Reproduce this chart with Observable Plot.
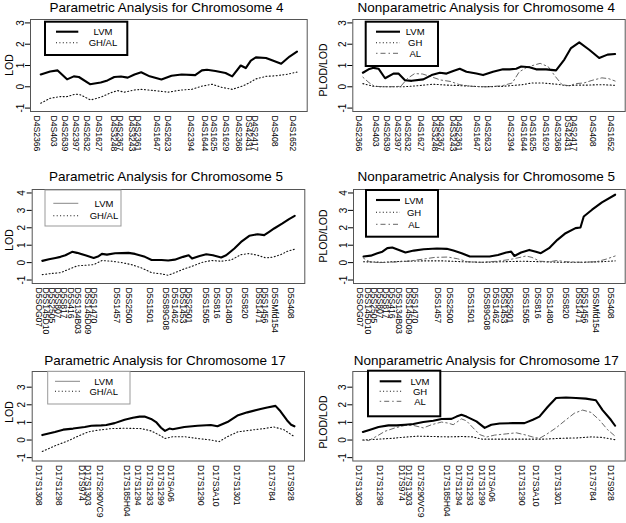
<!DOCTYPE html>
<html><head><meta charset="utf-8">
<script src="https://cdn.jsdelivr.net/npm/d3@7"></script>
<script src="https://cdn.jsdelivr.net/npm/@observablehq/plot@0.6"></script>
<style>
body{margin:0;background:#fff;font-family:"Liberation Sans",Arial,sans-serif;}
#root{position:relative;width:626px;height:523px;overflow:hidden;background:#fff;}
#root > svg{position:absolute;}
</style></head><body><div id="root"></div>
<script>
// ---------- Chromosome 4 ----------
const chr4Markers = ["D4S2366","D4S403","D4S2639","D4S2397","D4S2632","D4S1627","D4S3248","D4S2367","D4S3243","D4S2361","D4S1647","D4S2623","D4S2394","D4S1644","D4S1625","D4S1629","D4S2368","DS42431","D4S2417","D4S408","D4S1652"];
const chr4Pos = [0,17.2,27.7,38.6,49.2,61.8,76,82.2,94,100.3,118.6,129.5,152.6,165.8,174.7,187.3,199.8,209.5,216,235.2,253.3];
const chr4ParLVM = [[0,0.58],[9.3,0.72],[16.7,0.77],[26,0.35],[32.7,0.49],[37.7,0.46],[48.7,0.12],[59.3,0.2],[66,0.3],[72.7,0.46],[79.3,0.48],[86,0.43],[92.7,0.58],[99.3,0.68],[107.7,0.49],[119.3,0.34],[129.3,0.52],[139.3,0.58],[152.7,0.55],[159.3,0.77],[164.3,0.8],[172.7,0.74],[182.7,0.65],[189.3,0.49],[197.7,1.0],[202.7,0.88],[207.7,1.23],[212.7,1.38],[222.7,1.35],[229.3,1.23],[237.7,1.08],[246,1.42],[253.3,1.65]];
const chr4ParGHAL = [[0,-0.77],[9.3,-0.54],[19.3,-0.46],[26,-0.46],[34.3,-0.34],[39.3,-0.38],[49.3,-0.62],[59.3,-0.49],[69.3,-0.28],[76,-0.18],[82.7,-0.25],[92.7,-0.15],[99.3,-0.12],[112.7,-0.18],[126,-0.25],[139.3,-0.15],[149.3,-0.12],[159.3,0.03],[169.3,0.12],[179.3,-0.03],[189.3,-0.12],[199.3,0.03],[206,0.18],[212.7,0.37],[222.7,0.49],[232.7,0.52],[242.7,0.58],[253.3,0.69]];
const chr4NonLVM = [[0,0.66],[5.7,0.82],[10.7,0.89],[15.7,0.85],[22.3,0.4],[30.7,0.62],[35.7,0.62],[42.3,0.31],[49,0.28],[60.7,0.35],[69,0.55],[77.3,0.66],[84,0.62],[90.7,0.74],[97.3,0.85],[104,0.71],[114,0.62],[120.7,0.55],[130.7,0.71],[140.7,0.82],[147.3,0.82],[154,0.85],[159,0.95],[167.3,0.92],[174,0.82],[184,0.82],[194,0.77],[202.3,1.28],[209,1.82],[217.3,2.09],[227.3,1.74],[237.3,1.35],[245.7,1.51],[253.3,1.54]];
const chr4NonGH = [[0,0.15],[10,0.03],[20,0],[40,0],[55,0.05],[70,0.12],[85,0.08],[100,0.05],[120,0],[140,0.02],[160,0.1],[170,0.18],[180,0.18],[195,0.12],[205,0.05],[215,0.08],[225,0.08],[240,0.1],[253.3,0.07]];
const chr4NonAL = [[0,0.45],[6,0.2],[12,0.02],[25,0],[38,0.02],[45,0.4],[52,0.62],[60,0.6],[68,0.48],[78,0.32],[88,0.25],[97,0.1],[110,0.02],[125,0],[140,0.05],[150,0.18],[157,0.7],[165,0.92],[172,1.02],[178,1.1],[186,0.95],[193,0.5],[200,0.1],[207,0.05],[214,0.15],[222,0.18],[230,0.3],[240,0.42],[247,0.38],[253.3,0.27]];

// ---------- Chromosome 5 ----------
const chr5Markers = ["D5SOG07","D5S145D10","D5S2505","D5S807","D5S817","D5S416","D5S134B03","D5S145D09","D5S1470","D5S1457","D5S2500","D5S1501","D5S89G08","D5S1462","D5S1453","D5S2501","D5S1505","D5S816","D5S1480","D5S820","D5S1471","D5S1456","D5SMfd154","D5S408"];
const chr5Pos = [0,8,14,20,26,33,40,50,56,78.7,91.3,111.9,128.5,137.5,145.5,151.5,168.3,180,191.6,208.2,221.5,227.5,238.1,254];
const chr5ParLVM = [[0,0.1],[6.7,0.19],[13.3,0.27],[18.3,0.33],[23.3,0.42],[30,0.62],[35,0.56],[43.3,0.42],[51.7,0.27],[56.7,0.37],[60,0.5],[65,0.46],[73.3,0.54],[86.7,0.56],[93.3,0.5],[103.3,0.33],[110,0.15],[120,0.15],[126.7,0.12],[133.3,0.17],[141.7,0.33],[147.3,0.42],[150.7,0.23],[158.3,0.38],[165,0.48],[171.7,0.42],[180,0.29],[185,0.42],[193.3,0.81],[200,1.19],[208.3,1.54],[216.7,1.63],[223.3,1.58],[228.3,1.77],[233.3,1.96],[241.7,2.25],[248.3,2.5],[254,2.69]];
const chr5ParGHAL = [[0,-0.69],[10,-0.62],[18.3,-0.58],[26.7,-0.38],[35,-0.19],[43.3,-0.15],[51.7,-0.12],[60,0.12],[70,0.08],[80,0],[90,-0.12],[100,-0.31],[110,-0.58],[120,-0.65],[126.7,-0.73],[133.3,-0.58],[143.3,-0.35],[151.7,-0.19],[160,0],[170,0.12],[180,0.08],[190,0.15],[200,0.46],[208.3,0.52],[216.7,0.42],[225,0.27],[231.7,0.31],[240,0.46],[246.7,0.65],[254,0.77]];
const chr5NonLVM = [[0,0.35],[7.3,0.4],[14,0.54],[19,0.63],[24,0.83],[29,0.87],[35.7,0.73],[42.3,0.58],[50.7,0.69],[60.7,0.77],[74,0.81],[84,0.79],[90.7,0.69],[99,0.54],[107.3,0.35],[117.3,0.35],[127.3,0.35],[135.7,0.44],[144,0.58],[149,0.63],[152.3,0.38],[159,0.58],[167.3,0.73],[174,0.63],[179,0.54],[187.3,0.83],[195.7,1.31],[204,1.69],[214,1.98],[219,2.02],[222.3,2.65],[230.7,3.04],[240.7,3.46],[254,3.9]];
const chr5NonGH = [[0,0.05],[20,0.02],[40,0.08],[60,0.1],[80,0.1],[100,0.05],[120,0.02],[140,0.05],[160,0.08],[180,0.05],[200,0.02],[220,0.02],[240,0.05],[254,0.1]];
const chr5NonAL = [[0,0.25],[6,0.05],[15,0],[30,0.03],[45,0.08],[60,0.2],[72,0.3],[85,0.32],[95,0.22],[105,0.05],[120,0.02],[135,0.08],[148,0.18],[158,0.3],[164,0.38],[170,0.3],[178,0.08],[188,0.05],[195,0.12],[205,0.05],[220,0.02],[235,0.05],[245,0.2],[254,0.38]];

// ---------- Chromosome 17 ----------
const chr17Markers = ["D17S1308","D17S1298","D17S974","D17S1303","D17S290VC9","D17S185H04","D17S1294","D17S1293","D17S1299","D17SA06","D17S1290","D17S3A10","D17S1301","D17S784","D17S928"];
const chr17Pos = [0,20.6,43.5,49.8,62,88.5,100.1,111.7,123.3,133.3,163.1,178,199.6,234.4,253.3];
const chr17ParLVM = [[0,0.28],[12.7,0.46],[21,0.59],[31,0.65],[42.7,0.74],[49.3,0.81],[59.3,0.83],[64.3,0.85],[72.7,0.96],[82.7,1.15],[91,1.26],[97.7,1.33],[102.7,1.33],[109.3,1.2],[114.3,1.02],[119.3,0.7],[123.3,0.52],[127.7,0.65],[131,0.61],[142.7,0.74],[156,0.81],[169.3,0.85],[176,0.78],[186,1.02],[196,1.39],[206,1.57],[219.3,1.76],[226,1.85],[234.3,1.94],[239.3,1.63],[246,1.11],[250,0.87],[253.3,0.78]];
const chr17ParGHAL = [[0,-0.65],[12.7,-0.33],[26,-0.04],[36,0.22],[46,0.46],[56,0.56],[69.3,0.65],[82.7,0.67],[99.3,0.65],[109.3,0.52],[117.7,0.28],[123.3,0.09],[131,0.19],[142.7,0.19],[156,0.09],[169.3,0],[177.7,-0.09],[186,0.19],[196,0.46],[209.3,0.56],[222.7,0.65],[232.7,0.74],[242.7,0.59],[253.3,0.19]];
const chr17NonLVM = [[0,0.46],[7.3,0.59],[15.7,0.74],[25.7,0.83],[34,0.83],[42.3,0.87],[50.7,0.91],[60.7,1.02],[70.7,1.09],[79,1.19],[89,1.2],[94,1.33],[99,1.43],[104,1.33],[114,1.06],[122.3,0.69],[129,0.87],[137.3,0.94],[150.7,0.96],[162.3,0.96],[170.7,1.15],[177.3,1.33],[185.7,1.89],[194,2.39],[204,2.41],[214,2.39],[224,2.35],[234,2.26],[240.7,1.7],[249,1.15],[253.3,0.81]];
const chr17NonGH = [[0,0],[15,0.05],[30,0.1],[45,0.18],[55,0.22],[70,0.2],[85,0.18],[100,0.2],[110,0.18],[120,0.05],[135,0.05],[150,0.05],[165,0.05],[180,0.05],[200,0.1],[215,0.12],[230,0.18],[240,0.15],[253.3,0.02]];
const chr17NonAL = [[0,0],[5.7,-0.03],[14,0.22],[22.3,0.5],[32.3,0.69],[42.3,0.83],[50.7,0.83],[60.7,0.69],[69,0.87],[79,1.02],[85.7,0.96],[90.7,0.87],[99,1.2],[104,1.09],[110.7,0.69],[117.3,0.31],[124,0.17],[132.3,0.28],[144,0.35],[154,0.41],[164,0.28],[170.7,0.17],[177.3,0.09],[184,0.31],[194,0.69],[204,1.15],[212.3,1.52],[220.7,1.7],[229,1.57],[237.3,1.15],[245.7,0.59],[253.3,0.22]];

// ---------- Text ----------
const titles = ["Parametric Analysis for Chromosome 4","Nonparametric Analysis for Chromosome 4","Parametric Analysis for Chromosome 5","Nonparametric Analysis for Chromosome 5","Parametric Analysis for Chromosome 17","Nonparametric Analysis for Chromosome 17"];
const yLabels = ["LOD","PLOD/LOD"];
const paramLegend = ["LVM","GH/AL"];
const nonparamLegend = ["LVM","GH","AL"];
const ticks4 = [-1,0,1,2,3], ticks5 = [-1,0,1,2,3,4];

// ---------- Styles ----------
const S_LVM = {stroke:"#000", width:2.1, dash:null};
const S_DOT = {stroke:"#111", width:1.1, dash:"1,2.4"};
const S_DD  = {stroke:"#555", width:0.9, dash:"1.5,3,5,3"};
const S_THIN = {stroke:"#888", width:1, dash:null};

const root = document.getElementById("root");
const FONT = "Liberation Sans, Arial, Helvetica, sans-serif";

function panel(o) {
  const names = new Map(o.pos.map((p,i)=>[p,o.markers[i]]));
  const lo = d3.min(o.pos), hi = d3.max(o.pos), pad = (hi-lo)*0.04;
  const svg = Plot.plot({
    width: 313, height: 175,
    marginLeft: o.mL, marginRight: o.mR, marginTop: o.mT, marginBottom: o.mB,
    style: {fontFamily: FONT, background: "transparent", overflow: "visible", color: "#000"},
    x: {domain: [lo-pad, hi+pad]},
    y: {domain: o.yDomain},
    marks: [
      ...o.series.map(s => Plot.line(s.data, {x: d=>d[0], y: d=>d[1], stroke: s.style.stroke, strokeWidth: s.style.width, strokeDasharray: s.style.dash, curve: "linear"})),
      Plot.frame({stroke: "#555", strokeWidth: 1}),
      Plot.axisX({ticks: o.pos, tickFormat: p => names.get(p), tickRotate: 90, tickSize: 0, tickPadding: 4, fontSize: 8.6, dx: -4, label: null}),
      Plot.axisY({ticks: o.yTicks, tickFormat: d => String(d), tickSize: 5, tickPadding: 2, tickRotate: -90, fontSize: 10, label: null})
    ]
  });
  svg.style.left = o.left + "px";
  svg.style.top = o.top + "px";
  root.appendChild(svg);
}

const L = {left:0}, R = {left:313};
// Row 1
panel({...L, top:0, mL:30, mR:6.3, mT:19, mB:64, yDomain:[-1.16,3.16], yTicks:ticks4, markers:chr4Markers, pos:chr4Pos,
  series:[{data:chr4ParGHAL, style:S_DOT},{data:chr4ParLVM, style:S_LVM}]});
panel({...R, top:0, mL:39.3, mR:1.3, mT:19, mB:64, yDomain:[-1.16,3.16], yTicks:ticks4, markers:chr4Markers, pos:chr4Pos,
  series:[{data:chr4NonGH, style:S_DOT},{data:chr4NonAL, style:S_DD},{data:chr4NonLVM, style:S_LVM}]});
// Row 2
panel({...L, top:175, mL:31.7, mR:8.7, mT:14, mB:67, yDomain:[-1.2,4.2], yTicks:ticks5, markers:chr5Markers, pos:chr5Pos,
  series:[{data:chr5ParGHAL, style:S_DOT},{data:chr5ParLVM, style:S_LVM}]});
panel({...R, top:175, mL:40, mR:1.3, mT:14, mB:67, yDomain:[-1.2,4.2], yTicks:ticks5, markers:chr5Markers, pos:chr5Pos,
  series:[{data:chr5NonGH, style:S_DOT},{data:chr5NonAL, style:S_DD},{data:chr5NonLVM, style:S_LVM}]});
// Row 3
panel({...L, top:348, mL:31.7, mR:9, mT:23, mB:62.5, yDomain:[-1.19,3.89], yTicks:ticks4, markers:chr17Markers, pos:chr17Pos,
  series:[{data:chr17ParGHAL, style:S_DOT},{data:chr17ParLVM, style:S_LVM}]});
panel({...R, top:348, mL:39.3, mR:1.3, mT:23, mB:62.5, yDomain:[-1.19,3.89], yTicks:ticks4, markers:chr17Markers, pos:chr17Pos,
  series:[{data:chr17NonGH, style:S_DOT},{data:chr17NonAL, style:S_DD},{data:chr17NonLVM, style:S_LVM}]});

// ---------- Overlay: titles, axis labels, legends ----------
const ov = d3.select(root).append("svg").attr("width",626).attr("height",523)
  .style("left","0px").style("top","0px").style("font-family",FONT);

const titlePos = [[166.5,11.7],[486.3,11.7],[166,181],[486.3,181],[165,364.7],[486.3,364.7]];
titles.forEach((t,i)=>ov.append("text").attr("x",titlePos[i][0]).attr("y",titlePos[i][1])
  .attr("text-anchor","middle").attr("font-size",13.5).attr("fill","#000").text(t));

const yLabPos = [[0,9,65],[1,323,70],[0,9,240],[1,323,236],[0,9,412],[1,323,422]];
yLabPos.forEach(([k,x,y])=>ov.append("text").attr("transform",`translate(${x},${y}) rotate(-90)`)
  .attr("text-anchor","middle").attr("dominant-baseline","central").attr("font-size",10.5).attr("fill","#000").text(yLabels[k]));

function legend(o) {
  const g = ov.append("g").attr("transform",`translate(${o.x},${o.y})`);
  g.append("rect").attr("x",0).attr("y",0).attr("width",o.w).attr("height",o.h).attr("fill","#fff")
    .attr("stroke", o.thick ? "#000" : "#999").attr("stroke-width", o.thick ? 2 : 1);
  o.labels.forEach((lab,i)=>{
    const st = o.styles[i], yy = o.rows[i];
    g.append("line").attr("x1",o.sx1).attr("x2",o.sx2).attr("y1",yy).attr("y2",yy)
      .attr("stroke",st.stroke).attr("stroke-width",st.width).attr("stroke-dasharray",st.dash);
    g.append("text").attr("x",o.tx).attr("y",yy).attr("text-anchor","middle").attr("dominant-baseline","central")
      .attr("font-size",9.5).attr("fill","#000").text(lab);
  });
}
legend({x:45,y:21.7,w:82.3,h:33.3,thick:true,labels:paramLegend,styles:[S_LVM,S_DOT],rows:[10,21],sx1:11,sx2:33.3,tx:58});
legend({x:365.7,y:21.7,w:72.3,h:44.3,thick:true,labels:nonparamLegend,styles:[S_LVM,S_DOT,S_DD],rows:[10,21,31.6],sx1:10.3,sx2:34.3,tx:49.5});
legend({x:45,y:190,w:76,h:36,thick:false,labels:paramLegend,styles:[S_THIN,S_DOT],rows:[13.3,25.7],sx1:8.3,sx2:33.3,tx:59});
legend({x:366,y:190,w:72,h:46.7,thick:true,labels:nonparamLegend,styles:[S_LVM,S_DOT,S_DD],rows:[10,22.3,34.3],sx1:10,sx2:34,tx:48});
legend({x:47.7,y:371.3,w:82.3,h:32.7,thick:false,labels:paramLegend,styles:[S_THIN,S_DOT],rows:[10,20],sx1:7.3,sx2:32.3,tx:56});
legend({x:368,y:370.7,w:72.3,h:45.6,thick:true,labels:nonparamLegend,styles:[S_LVM,S_DOT,S_DD],rows:[10.6,20.6,30.6],sx1:11.7,sx2:33.3,tx:52});
</script>
</body></html>
